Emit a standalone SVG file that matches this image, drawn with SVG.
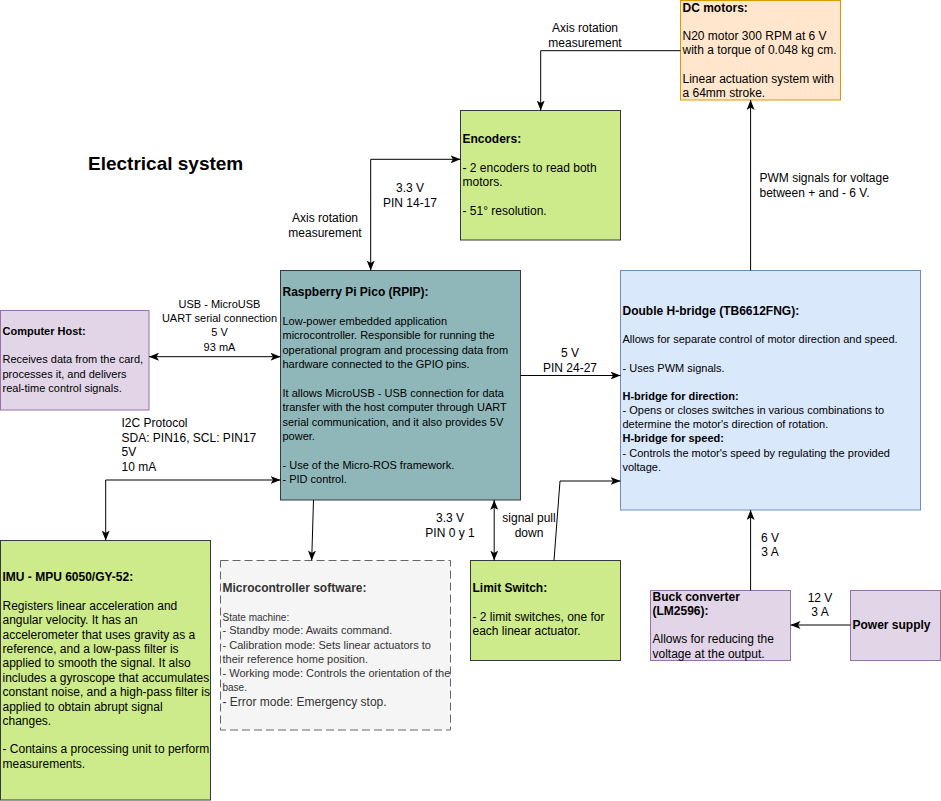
<svg xmlns="http://www.w3.org/2000/svg" width="941" height="801" viewBox="0 0 941 801">
<style>
text{font-family:"Liberation Sans",Arial,Helvetica,sans-serif;fill:#000}
.t12{font-size:12px}
.t11{font-size:11px}
.t10{font-size:10px}
.b{font-weight:bold}
.c{text-anchor:middle}
.g{fill:#333}
.green{fill:#cdeb8b;stroke:#36393d;stroke-width:1}
.purple{fill:#e1d5e7;stroke:#9673a6;stroke-width:1}
.edge{fill:none;stroke:#000;stroke-width:1}
</style>
<defs>
<marker id="arr" viewBox="0 0 10 8" refX="10" refY="4" markerWidth="10" markerHeight="8" orient="auto-start-reverse" markerUnits="userSpaceOnUse">
<path d="M0,0 L10,4 L0,8 L2.5,4 z" fill="#000"/>
</marker>
</defs>
<rect width="941" height="801" fill="#fff"/>

<text x="88" y="170" class="b" style="font-size:19px">Electrical system</text>

<g id="dc-motors">
<rect x="680.5" y="0.5" width="160" height="99.5" fill="#ffe6cc" stroke="#d79b00"/>
<text class="t12" x="682.5"><tspan x="682.5" y="11.5" class="b">DC motors:</tspan><tspan x="682.5" y="39.5">N20 motor 300 RPM at 6 V</tspan><tspan x="682.5" y="54">with a torque of 0.048 kg cm.</tspan><tspan x="682.5" y="83">Linear actuation system with</tspan><tspan x="682.5" y="97">a 64mm stroke.</tspan></text>
</g>

<g id="encoders">
<rect x="460.5" y="110.5" width="160" height="129.5" class="green"/>
<text class="t12"><tspan x="462.5" y="142.7" class="b">Encoders:</tspan><tspan x="462.5" y="171.5">- 2 encoders to read both</tspan><tspan x="462.5" y="186">motors.</tspan><tspan x="462.5" y="214.5">- 51° resolution.</tspan></text>
</g>

<g id="rpip">
<rect x="280.5" y="270.5" width="240" height="229.5" fill="#8fb7b9" stroke="#36393d"/>
<text x="282.5" y="296" class="t12 b">Raspberry Pi Pico (RPIP):</text>
<text class="t11"><tspan x="282.5" y="325">Low-power embedded application</tspan><tspan x="282.5" y="339.4">microcontroller. Responsible for running the</tspan><tspan x="282.5" y="353.8">operational program and processing data from</tspan><tspan x="282.5" y="368.2">hardware connected to the GPIO pins.</tspan><tspan x="282.5" y="397">It allows MicroUSB - USB connection for data</tspan><tspan x="282.5" y="411.4">transfer with the host computer through UART</tspan><tspan x="282.5" y="425.8">serial communication, and it also provides 5V</tspan><tspan x="282.5" y="440.2">power.</tspan><tspan x="282.5" y="469">- Use of the Micro-ROS framework.</tspan><tspan x="282.5" y="483.4">- PID control.</tspan></text>
</g>

<g id="computer-host">
<rect x="0.5" y="310.5" width="148.5" height="99.5" class="purple"/>
<text class="t11"><tspan x="2.5" y="335" class="b">Computer Host:</tspan><tspan x="2.5" y="363.3">Receives data from the card,</tspan><tspan x="2.5" y="377.6">processes it, and delivers</tspan><tspan x="2.5" y="391.9">real-time control signals.</tspan></text>
</g>

<g id="imu">
<rect x="0.5" y="540.5" width="210" height="259.5" class="green"/>
<text class="t12"><tspan x="2.5" y="580.7" class="b">IMU - MPU 6050/GY-52:</tspan><tspan x="2.5" y="609.7">Registers linear acceleration and</tspan><tspan x="2.5" y="624.1">angular velocity. It has an</tspan><tspan x="2.5" y="638.5">accelerometer that uses gravity as a</tspan><tspan x="2.5" y="652.9">reference, and a low-pass filter is</tspan><tspan x="2.5" y="667.3">applied to smooth the signal. It also</tspan><tspan x="2.5" y="681.7">includes a gyroscope that accumulates</tspan><tspan x="2.5" y="696.1">constant noise, and a high-pass filter is</tspan><tspan x="2.5" y="710.5">applied to obtain abrupt signal</tspan><tspan x="2.5" y="724.9">changes.</tspan><tspan x="2.5" y="753.3">- Contains a processing unit to perform</tspan><tspan x="2.5" y="767.7">measurements.</tspan></text>
</g>

<g id="microcontroller-software">
<rect x="220.5" y="560.5" width="230" height="169.5" fill="#f5f5f5" stroke="#666" stroke-dasharray="8 4"/>
<text x="222.5" y="591.7" class="t12 b g">Microcontroller software:</text>
<text x="222.5" y="620.7" class="t10 g">State machine:</text>
<text class="t11 g"><tspan x="222.5" y="634.3">- Standby mode: Awaits command.</tspan><tspan x="222.5" y="648.6">- Calibration mode: Sets linear actuators to</tspan><tspan x="222.5" y="662.9">their reference home position.</tspan><tspan x="222.5" y="677.2">- Working mode: Controls the orientation of the</tspan></text>
<text x="222.5" y="690.7" class="t10 g">base.</text>
<text x="222.5" y="706" class="t12 g">- Error mode: Emergency stop.</text>
</g>

<g id="limit-switch">
<rect x="470.5" y="560.5" width="150" height="100" class="green"/>
<text class="t12"><tspan x="472.5" y="591.7" class="b">Limit Switch:</tspan><tspan x="472.5" y="620.5">- 2 limit switches, one for</tspan><tspan x="472.5" y="634.9">each linear actuator.</tspan></text>
</g>

<g id="h-bridge">
<rect x="620.5" y="270.5" width="300" height="239.5" fill="#dae8fc" stroke="#6c8ebf"/>
<text x="622.5" y="315" class="t12 b">Double H-bridge (TB6612FNG):</text>
<text class="t11"><tspan x="622.5" y="343.3">Allows for separate control of motor direction and speed.</tspan><tspan x="622.5" y="371.7">- Uses PWM signals.</tspan><tspan x="622.5" y="399.5" class="b">H-bridge for direction:</tspan><tspan x="622.5" y="413.8">- Opens or closes switches in various combinations to</tspan><tspan x="622.5" y="428">determine the motor's direction of rotation.</tspan><tspan x="622.5" y="442.3" class="b">H-bridge for speed:</tspan><tspan x="622.5" y="456.6">- Controls the motor's speed by regulating the provided</tspan><tspan x="622.5" y="470.9">voltage.</tspan></text>
</g>

<g id="buck-converter">
<rect x="650.5" y="590.5" width="140" height="70" class="purple"/>
<text class="t12"><tspan x="652.5" y="600.7" class="b">Buck converter</tspan><tspan x="652.5" y="614.5" class="b">(LM2596):</tspan><tspan x="652.5" y="643.3">Allows for reducing the</tspan><tspan x="652.5" y="657.5">voltage at the output.</tspan></text>
</g>

<g id="power-supply">
<rect x="850.5" y="590.5" width="90" height="70" class="purple"/>
<text x="852.5" y="628.5" class="t12 b">Power supply</text>
</g>

<g id="connectors">
<path class="edge" d="M680.5,50.7 H540.7 V110.5" marker-end="url(#arr)"/>
<path class="edge" d="M370.7,270.5 V159.3 H460.5" marker-start="url(#arr)" marker-end="url(#arr)"/>
<path class="edge" d="M149,356.7 H280.5" marker-start="url(#arr)" marker-end="url(#arr)"/>
<path class="edge" d="M280.5,480 H105.7 V540.5" marker-start="url(#arr)" marker-end="url(#arr)"/>
<path class="edge" d="M313.5,500 L311.7,560.5" marker-end="url(#arr)"/>
<path class="edge" d="M494.2,500 V560.5" marker-start="url(#arr)" marker-end="url(#arr)"/>
<path class="edge" d="M554,560.5 L560,481 H620.5" marker-end="url(#arr)"/>
<path class="edge" d="M520.5,375.5 H620.5" marker-end="url(#arr)"/>
<path class="edge" d="M750.6,270.5 V100" marker-end="url(#arr)"/>
<path class="edge" d="M750.6,590.5 V510" marker-end="url(#arr)"/>
<path class="edge" d="M850.5,625 H790.5" marker-end="url(#arr)"/>

<text class="t12 c"><tspan x="585" y="31.7">Axis rotation</tspan><tspan x="585" y="46.7">measurement</tspan></text>
<text class="t12 c"><tspan x="410" y="191.7">3.3 V</tspan><tspan x="410" y="206.7">PIN 14-17</tspan></text>
<text class="t12 c"><tspan x="325" y="221.7">Axis rotation</tspan><tspan x="325" y="236.7">measurement</tspan></text>
<text class="t11 c"><tspan x="219.5" y="307.7">USB - MicroUSB</tspan><tspan x="219.5" y="321.9">UART serial connection</tspan><tspan x="219.5" y="336.1">5 V</tspan><tspan x="219.5" y="350.5">93 mA</tspan></text>
<text class="t12"><tspan x="121.5" y="427.3">I2C Protocol</tspan><tspan x="121.5" y="441.7">SDA: PIN16, SCL: PIN17</tspan><tspan x="121.5" y="456.1">5V</tspan><tspan x="121.5" y="470.5">10 mA</tspan></text>
<text class="t12 c"><tspan x="570" y="356.7">5 V</tspan><tspan x="570" y="371.7">PIN 24-27</tspan></text>
<text class="t12 c"><tspan x="450" y="521.7">3.3 V</tspan><tspan x="450" y="536.7">PIN 0 y 1</tspan></text>
<text class="t12 c"><tspan x="529" y="521.7">signal pull</tspan><tspan x="529" y="536.7">down</tspan></text>
<text class="t12"><tspan x="759.5" y="181.7">PWM signals for voltage</tspan><tspan x="759.5" y="196.7">between + and - 6 V.</tspan></text>
<text class="t12 c"><tspan x="770" y="541.7">6 V</tspan><tspan x="770" y="556">3 A</tspan></text>
<text class="t12 c"><tspan x="820" y="601.7">12 V</tspan><tspan x="820" y="616">3 A</tspan></text>
</g>
</svg>
